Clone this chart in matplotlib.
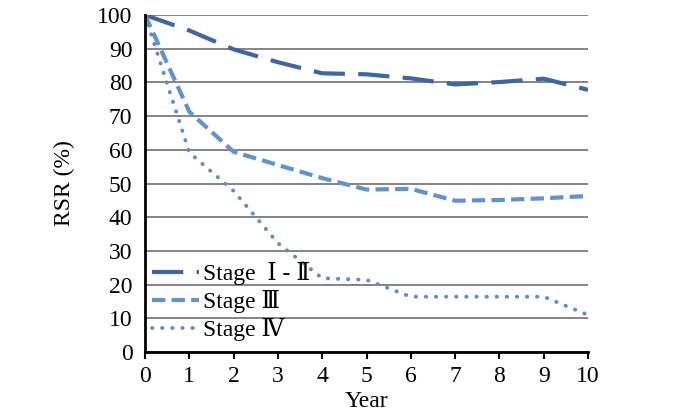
import matplotlib
matplotlib.use("Agg")
import matplotlib.pyplot as plt

years = [0, 1, 2, 3, 4, 5, 6, 7, 8, 9, 10]
stage_1_2 = [100, 95.4, 89.8, 86.0, 82.7, 82.4, 81.2, 79.4, 80.1, 81.1, 77.8]
stage_3 = [100, 71.3, 59.4, 55.5, 51.6, 48.2, 48.4, 44.9, 45.1, 45.6, 46.3]
stage_4 = [100, 59.2, 47.8, 32.3, 21.9, 21.4, 16.4, 16.4, 16.4, 16.4, 11.0]
labels = ["Stage  Ⅰ - Ⅱ", "Stage Ⅲ", "Stage Ⅳ"]
yticks = [0, 10, 20, 30, 40, 50, 60, 70, 80, 90, 100]

plt.rcParams['font.family'] = ['Liberation Serif', 'DejaVu Serif']

fig = plt.figure(figsize=(7, 4.2), dpi=100)
ax = fig.add_axes([145/700, 1-352/420, (588-145)/700, (352-15)/420])

ax.plot(years, stage_1_2, color='#3D65AB', lw=3.0, dashes=(7.5, 3.2), dash_capstyle='butt', label=labels[0])
ax.plot(years, stage_3, color='#5F93CE', lw=3.0, dashes=(3.2, 1.5), label=labels[1])
ax.plot(years, stage_4, color='#5B8FCB', lw=2.8, dashes=(0.1, 2.5), dash_capstyle='round', label=labels[2])

ax.set_xlim(0, 10)
ax.set_ylim(0, 100)
ax.set_xticks(years)
ax.set_yticks(yticks)
ax.yaxis.grid(True, color='#848484', lw=1.4)
ax.set_axisbelow(True)
for s in ['top', 'right']:
    ax.spines[s].set_visible(False)
ax.spines['left'].set_linewidth(2)
ax.spines['bottom'].set_linewidth(2)
ax.tick_params(axis='y', length=0, labelsize=17, pad=9)
ax.tick_params(axis='x', length=5, width=1.5, labelsize=17, pad=5, direction='out')
ax.set_xlabel("Year", fontsize=17, labelpad=3)
ax.set_ylabel("RSR (%)", fontsize=17, labelpad=16)

leg = ax.legend(loc='lower left', bbox_to_anchor=(-0.005, 0.005), frameon=False,
                fontsize=17, handlelength=2.0, handletextpad=0.15, labelspacing=0.2,
                borderaxespad=0)

fig.savefig("out.png", dpi=100)
